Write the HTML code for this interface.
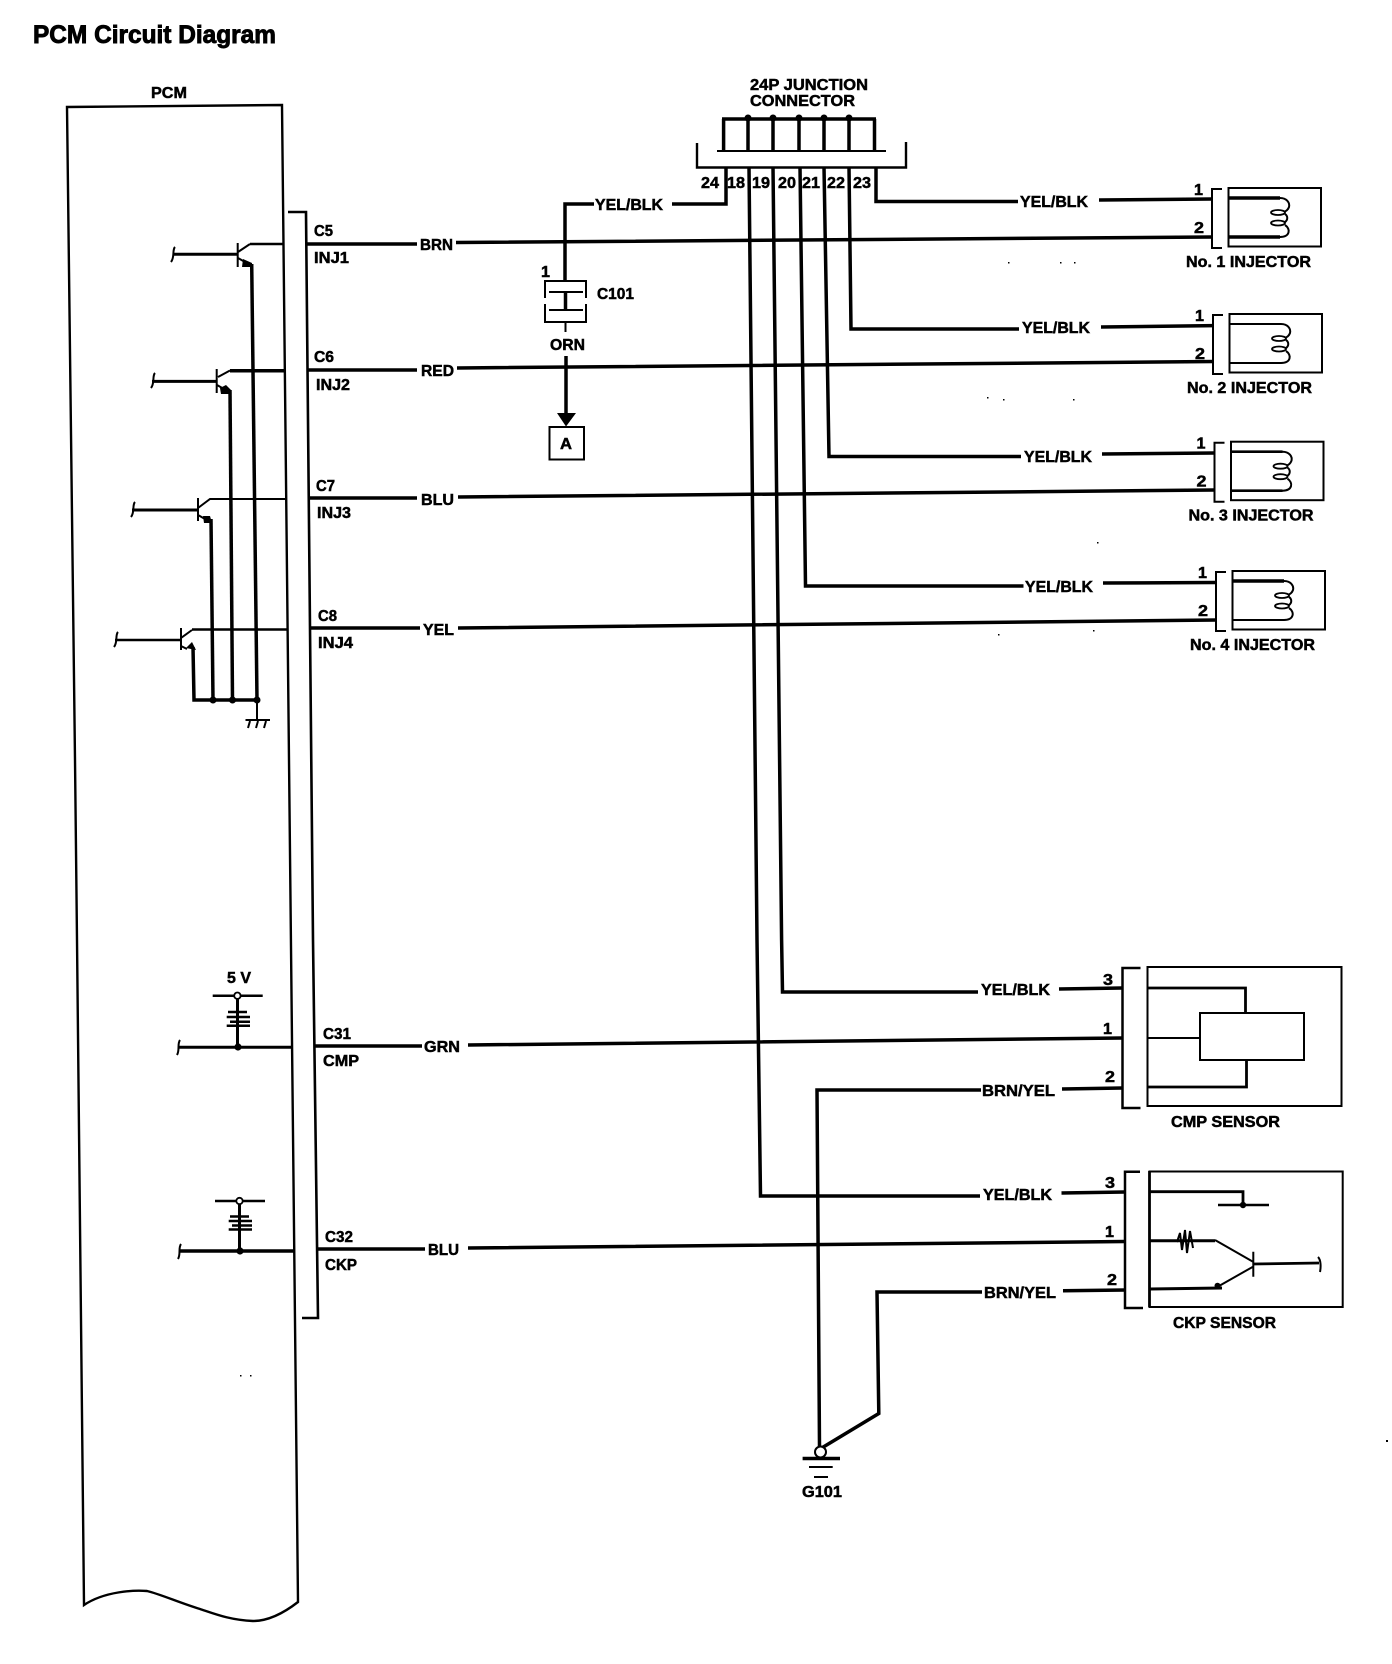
<!DOCTYPE html>
<html>
<head>
<meta charset="utf-8">
<title>PCM Circuit Diagram</title>
<style>
html,body{margin:0;padding:0;background:#fff;}
svg{display:block;}
text{font-family:"Liberation Sans",Arial,sans-serif;font-weight:bold;font-size:16px;fill:#000;stroke:#000;stroke-width:.5px;}
.w{fill:none;stroke:#000;stroke-width:3.5;stroke-linejoin:miter;}
.t{fill:none;stroke:#000;stroke-width:2;}
.h{fill:none;stroke:#000;stroke-width:2;}
.r{fill:none;stroke:#000;stroke-width:2.5;}
</style>
</head>
<body>
<svg width="1392" height="1664" viewBox="0 0 1392 1664" xmlns="http://www.w3.org/2000/svg">
<rect width="1392" height="1664" fill="#fff"/>

<!-- Title -->
<text x="33" y="43" style="font-size:25px;stroke-width:.9px" textLength="243" lengthAdjust="spacingAndGlyphs">PCM Circuit Diagram</text>

<!-- PCM box -->
<text x="151" y="98" textLength="36" lengthAdjust="spacingAndGlyphs">PCM</text>
<path class="t" d="M77 940 L75 760 L67 107 L282 105 L289 760 L298 1602 C280 1616 265 1621 253 1621 C230 1620 215 1614 200 1609 C180 1603 160 1594 147 1591 C135 1590 105 1591 84 1605 L77 940" style="stroke-width:2.4"/>

<!-- Connector bar -->
<path class="t" d="M288 212 H306 L313 940 L318 1318 H302" style="stroke-width:2.6"/>

<!-- Connector labels -->
<text x="314" y="236" textLength="19" lengthAdjust="spacingAndGlyphs">C5</text>
<text x="314" y="263" textLength="35" lengthAdjust="spacingAndGlyphs">INJ1</text>
<text x="314" y="362" textLength="20" lengthAdjust="spacingAndGlyphs">C6</text>
<text x="316" y="390" textLength="34" lengthAdjust="spacingAndGlyphs">INJ2</text>
<text x="316" y="491" textLength="19" lengthAdjust="spacingAndGlyphs">C7</text>
<text x="317" y="518" textLength="34" lengthAdjust="spacingAndGlyphs">INJ3</text>
<text x="318" y="621" textLength="19" lengthAdjust="spacingAndGlyphs">C8</text>
<text x="318" y="648" textLength="35" lengthAdjust="spacingAndGlyphs">INJ4</text>
<text x="323" y="1039" textLength="28" lengthAdjust="spacingAndGlyphs">C31</text>
<text x="323" y="1066" textLength="36" lengthAdjust="spacingAndGlyphs">CMP</text>
<text x="325" y="1242" textLength="28" lengthAdjust="spacingAndGlyphs">C32</text>
<text x="325" y="1270" textLength="32" lengthAdjust="spacingAndGlyphs">CKP</text>

<!-- Signal wires -->
<path class="w" d="M306 244 H417 M456 242.5 L1212 237"/>
<text x="420" y="250" textLength="33" lengthAdjust="spacingAndGlyphs">BRN</text>
<path class="w" d="M308 370 H417 M457 368 L1214 361.5"/>
<text x="421" y="376" textLength="33" lengthAdjust="spacingAndGlyphs">RED</text>
<path class="w" d="M309 498 H417 M458 497 L1215 490"/>
<text x="421" y="505" textLength="33" lengthAdjust="spacingAndGlyphs">BLU</text>
<path class="w" d="M310 628 H420 M458 628 L1217 620"/>
<text x="423" y="635" textLength="31" lengthAdjust="spacingAndGlyphs">YEL</text>
<path class="w" d="M315 1046 H422 M468 1045 L1122.5 1038"/>
<text x="424" y="1052" textLength="36" lengthAdjust="spacingAndGlyphs">GRN</text>
<path class="w" d="M317 1249 H425 M468 1248 L1125 1241.5"/>
<text x="428" y="1255" textLength="31" lengthAdjust="spacingAndGlyphs">BLU</text>

<!-- Transistor 1 -->
<path class="h" d="M175 247 C172 250 175 257 171 262"/>
<path class="w" d="M173 254.3 H238" style="stroke-width:3"/>
<path class="t" d="M237.7 243 V267 M238 252 L250 244 M238 258 L245 262"/>
<path class="t" d="M250 244 H283" style="stroke-width:2.6"/>
<path d="M243 259 L252 263 L252 267 L242 267 Z" fill="#000"/>
<path class="w" d="M251.7 264 L257 700"/>
<!-- Transistor 2 -->
<path class="h" d="M155 373 C152 376 155 383 151 388"/>
<path class="w" d="M152 381.4 H216.7" style="stroke-width:3"/>
<path class="t" d="M216.7 369 V393 M218 377 L230 370.5 M217 385 L224 389"/>
<path class="w" d="M230 370.7 H285"/>
<path d="M220 388 L226 385 L231 390 L231 394 L221 394 Z" fill="#000"/>
<path class="w" d="M230 390 L232.5 700"/>
<!-- Transistor 3 -->
<path class="h" d="M135 502 C132 505 135 512 131 517"/>
<path class="w" d="M132 510 H198" style="stroke-width:3"/>
<path class="t" d="M198 498 V521 M198 508 L210 499 H286 M198 515 L205 519"/>
<path d="M203 516 L210 516 L212 523 L204 523 Z" fill="#000"/>
<path class="w" d="M211 519 L213 700"/>
<!-- Transistor 4 -->
<path class="h" d="M118 632 C115 635 118 642 114 647"/>
<path class="w" d="M115 640 H181" style="stroke-width:2.6"/>
<path class="t" d="M181 628 V650 M181 638 L192 630 M181 646 L187 649"/>
<path class="t" d="M192 629.5 H286.5" style="stroke-width:2.4"/>
<path d="M186 648 L192 642 L196 650 Z" fill="#000"/>
<path class="w" d="M193 647 L194 700 H257"/>
<circle cx="213" cy="700" r="3.5"/><circle cx="232.5" cy="700" r="3.5"/><circle cx="257" cy="700" r="3.5"/>
<path class="t" d="M257 700 V720 M245.5 720 H270"/>
<path class="h" d="M250 721 L248 728 M258 721 L256 728 M266 721 L264 728"/>

<!-- C101 -->
<path class="w" d="M565 281 V204 H594 M672 204 H726 V167"/>
<text x="595" y="210" textLength="68" lengthAdjust="spacingAndGlyphs">YEL/BLK</text>
<text x="541" y="277" textLength="9" lengthAdjust="spacingAndGlyphs">1</text>
<path class="t" d="M545 298 V281 H586 V298 M545 304 V322 H586 V304"/>
<path class="t" d="M549 292 H583 M549 310 H583"/>
<path class="w" d="M565.5 292 V310"/>
<path class="t" d="M565.5 322 V332"/>
<text x="597" y="299" textLength="37" lengthAdjust="spacingAndGlyphs">C101</text>
<text x="550" y="350" textLength="35" lengthAdjust="spacingAndGlyphs">ORN</text>
<path class="w" d="M566 356 V415"/>
<path d="M557 413 H576 L566 426.5 Z" fill="#000"/>
<rect x="549.5" y="427" width="34.5" height="32.5" fill="#fff" stroke="#000" stroke-width="2"/>
<text x="560" y="449" textLength="12" lengthAdjust="spacingAndGlyphs">A</text>

<!-- Junction connector -->
<text x="750" y="90" textLength="118" lengthAdjust="spacingAndGlyphs">24P JUNCTION</text>
<text x="750" y="106" textLength="105" lengthAdjust="spacingAndGlyphs">CONNECTOR</text>
<path class="w" d="M722 119 H876 M723.6 119 V151 M748 119 V151 M773 119 V151 M799 119 V151 M824 119 V151 M849 119 V151 M874.5 119 V151"/>
<circle cx="748" cy="118" r="3.5"/><circle cx="773" cy="118" r="3.5"/><circle cx="799" cy="118" r="3.5"/><circle cx="824" cy="118" r="3.5"/><circle cx="849" cy="118" r="3.5"/>
<path class="t" d="M717 151 H886"/>
<path class="t" d="M697 143 V167.5 H906 V142" style="stroke-width:2.4"/>
<text x="701" y="188" textLength="18" lengthAdjust="spacingAndGlyphs">24</text>
<text x="727" y="188" textLength="18" lengthAdjust="spacingAndGlyphs">18</text>
<text x="752" y="188" textLength="18" lengthAdjust="spacingAndGlyphs">19</text>
<text x="778" y="188" textLength="18" lengthAdjust="spacingAndGlyphs">20</text>
<text x="802" y="188" textLength="18" lengthAdjust="spacingAndGlyphs">21</text>
<text x="827" y="188" textLength="18" lengthAdjust="spacingAndGlyphs">22</text>
<text x="853" y="188" textLength="18" lengthAdjust="spacingAndGlyphs">23</text>

<!-- Vertical wires from junction -->
<path class="w" d="M749 167 L757 940 L760.5 1196 H980"/>
<path class="w" d="M773 167 L781.6 940 L782.5 992 H978"/>
<path class="w" d="M800 167 L805.5 586 H1023.5"/>
<path class="w" d="M824 167 L829 456.5 H1021"/>
<path class="w" d="M849 167 L851 329 H1019"/>
<path class="w" d="M876 167 V201.5 H1018"/>

<!-- YEL/BLK labels and injector feeds -->
<text x="1020" y="207" textLength="68" lengthAdjust="spacingAndGlyphs">YEL/BLK</text>
<path class="w" d="M1099 200 L1212 199"/>
<text x="1022" y="333" textLength="68" lengthAdjust="spacingAndGlyphs">YEL/BLK</text>
<path class="w" d="M1101 327 L1213 325.6"/>
<text x="1024" y="462" textLength="68" lengthAdjust="spacingAndGlyphs">YEL/BLK</text>
<path class="w" d="M1102 454 L1214.6 453"/>
<text x="1025" y="592" textLength="68" lengthAdjust="spacingAndGlyphs">YEL/BLK</text>
<path class="w" d="M1103 583 L1216 582.5"/>

<!-- Injector 1 -->
<g>
<text x="1194" y="195" textLength="9" lengthAdjust="spacingAndGlyphs">1</text>
<text x="1194" y="233" textLength="10" lengthAdjust="spacingAndGlyphs">2</text>
<path class="t" d="M1222 189 H1212 V248 H1222"/>
<rect x="1228.5" y="188" width="92.5" height="58.5" fill="none" stroke="#000" stroke-width="2"/>
<path class="w" d="M1228 198 H1280 M1228 237 H1280"/>
<path class="t" d="M1280 198 C1287 198 1290 203 1289 207 C1288 210 1286 211 1284 212 M1285 214 C1288 216 1288 220 1285 222 M1285 225 C1291 229 1290 237 1280 237"/>
<ellipse cx="1278" cy="212.5" rx="7" ry="2.5" fill="none" stroke="#000" stroke-width="1.8"/>
<ellipse cx="1278" cy="223" rx="7" ry="2.5" fill="none" stroke="#000" stroke-width="1.8"/>
<text x="1186" y="267" textLength="125" lengthAdjust="spacingAndGlyphs">No. 1 INJECTOR</text>
</g>
<!-- Injector 2 -->
<g transform="translate(1,126)">
<text x="1194" y="195" textLength="9" lengthAdjust="spacingAndGlyphs">1</text>
<text x="1194" y="233" textLength="10" lengthAdjust="spacingAndGlyphs">2</text>
<path class="t" d="M1222 189 H1212 V248 H1222"/>
<rect x="1228.5" y="188" width="92.5" height="58.5" fill="none" stroke="#000" stroke-width="2"/>
<path class="t" d="M1228 198 H1280 M1228 237 H1280"/>
<path class="t" d="M1280 198 C1287 198 1290 203 1289 207 C1288 210 1286 211 1284 212 M1285 214 C1288 216 1288 220 1285 222 M1285 225 C1291 229 1290 237 1280 237"/>
<ellipse cx="1278" cy="212.5" rx="7" ry="2.5" fill="none" stroke="#000" stroke-width="1.8"/>
<ellipse cx="1278" cy="223" rx="7" ry="2.5" fill="none" stroke="#000" stroke-width="1.8"/>
<text x="1186" y="267" textLength="125" lengthAdjust="spacingAndGlyphs">No. 2 INJECTOR</text>
</g>
<!-- Injector 3 -->
<g transform="translate(2.5,253.7)">
<text x="1194" y="195" textLength="9" lengthAdjust="spacingAndGlyphs">1</text>
<text x="1194" y="233" textLength="10" lengthAdjust="spacingAndGlyphs">2</text>
<path class="t" d="M1222 189 H1212 V248 H1222"/>
<rect x="1228.5" y="188" width="92.5" height="58.5" fill="none" stroke="#000" stroke-width="2"/>
<path class="w" d="M1228 198 H1280 M1228 237 H1280" style="stroke-width:2.6"/>
<path class="t" d="M1280 198 C1287 198 1290 203 1289 207 C1288 210 1286 211 1284 212 M1285 214 C1288 216 1288 220 1285 222 M1285 225 C1291 229 1290 237 1280 237"/>
<ellipse cx="1278" cy="212.5" rx="7" ry="2.5" fill="none" stroke="#000" stroke-width="1.8"/>
<ellipse cx="1278" cy="223" rx="7" ry="2.5" fill="none" stroke="#000" stroke-width="1.8"/>
<text x="1186" y="267" textLength="125" lengthAdjust="spacingAndGlyphs">No. 3 INJECTOR</text>
</g>
<!-- Injector 4 -->
<g transform="translate(4,383)">
<text x="1194" y="195" textLength="9" lengthAdjust="spacingAndGlyphs">1</text>
<text x="1194" y="233" textLength="10" lengthAdjust="spacingAndGlyphs">2</text>
<path class="t" d="M1222 189 H1212 V248 H1222"/>
<rect x="1228.5" y="188" width="92.5" height="58.5" fill="none" stroke="#000" stroke-width="2"/>
<path class="w" d="M1228 198 H1280"/>
<path class="t" d="M1228 237 H1280 M1280 198 C1287 198 1290 203 1289 207 C1288 210 1286 211 1284 212 M1285 214 C1288 216 1288 220 1285 222 M1285 225 C1291 229 1290 237 1280 237"/>
<ellipse cx="1278" cy="212.5" rx="7" ry="2.5" fill="none" stroke="#000" stroke-width="1.8"/>
<ellipse cx="1278" cy="223" rx="7" ry="2.5" fill="none" stroke="#000" stroke-width="1.8"/>
<text x="1186" y="267" textLength="125" lengthAdjust="spacingAndGlyphs">No. 4 INJECTOR</text>
</g>

<!-- 5 V network -->
<text x="227" y="983" textLength="24" lengthAdjust="spacingAndGlyphs">5 V</text>
<path class="r" d="M212.7 995.7 H262.7"/>
<path class="w" d="M237.5 996 V1047" style="stroke-width:3"/>
<circle cx="237.4" cy="995.7" r="3.2" fill="#fff" stroke="#000" stroke-width="1.8"/>
<path class="r" d="M228 1012 H247 M226.7 1017 H250 M230 1021.7 H250 M226.7 1025.7 H250"/>
<path class="w" d="M178 1047.3 H291" style="stroke-width:3"/>
<path class="h" d="M180 1040 C177 1044 180 1050 177 1055"/>
<circle cx="238" cy="1047" r="3.6"/>

<!-- CKP pull-up -->
<path class="r" d="M215 1201 H265"/>
<path class="w" d="M239.5 1201 V1251" style="stroke-width:3"/>
<circle cx="239.5" cy="1201" r="3.2" fill="#fff" stroke="#000" stroke-width="1.8"/>
<path class="r" d="M230 1216.5 H249 M228.7 1221 H252 M232 1225.5 H252 M228.7 1229.5 H252"/>
<path class="w" d="M179 1251 H294"/>
<path class="h" d="M181 1244 C178 1248 181 1254 178 1259"/>
<circle cx="240" cy="1251" r="3.6"/>

<!-- CMP sensor -->
<text x="981" y="995" textLength="69" lengthAdjust="spacingAndGlyphs">YEL/BLK</text>
<path class="w" d="M1059 989 L1122 988"/>
<text x="1103" y="985" textLength="10" lengthAdjust="spacingAndGlyphs">3</text>
<text x="1103" y="1034" textLength="9" lengthAdjust="spacingAndGlyphs">1</text>
<text x="1105" y="1082" textLength="10" lengthAdjust="spacingAndGlyphs">2</text>
<path class="t" d="M1140.5 968 H1122.5 V1108 H1140.5" style="stroke-width:2.5"/>
<rect x="1147.5" y="967" width="194" height="139" fill="none" stroke="#000" stroke-width="2"/>
<rect x="1200" y="1013" width="104" height="47" fill="none" stroke="#000" stroke-width="2"/>
<path class="w" d="M1147.5 988 H1245.5 V1013 M1147.5 1087 H1246.5 V1060" style="stroke-width:2.8"/>
<path class="t" d="M1147.5 1038 H1200"/>
<text x="1171" y="1127" textLength="109" lengthAdjust="spacingAndGlyphs">CMP SENSOR</text>

<!-- Ground wires -->
<path class="w" d="M981 1090 H817 L819.5 1447 M1062 1089 L1122.5 1088"/>
<text x="982" y="1096" textLength="73" lengthAdjust="spacingAndGlyphs">BRN/YEL</text>

<!-- CKP sensor -->
<text x="983" y="1200" textLength="69" lengthAdjust="spacingAndGlyphs">YEL/BLK</text>
<path class="w" d="M1061.5 1193 L1125 1192"/>
<text x="1105" y="1188" textLength="10" lengthAdjust="spacingAndGlyphs">3</text>
<text x="1105" y="1237" textLength="9" lengthAdjust="spacingAndGlyphs">1</text>
<text x="1107" y="1285" textLength="10" lengthAdjust="spacingAndGlyphs">2</text>
<path class="t" d="M1140 1171.7 H1125 V1308 H1143" style="stroke-width:2.5"/>
<rect x="1149.5" y="1171.5" width="193.2" height="135.5" fill="none" stroke="#000" stroke-width="2"/>
<path class="w" d="M1149.5 1171 V1307 M1149.5 1191.7 H1243 V1205" style="stroke-width:2.8"/>
<path class="r" d="M1218 1205 H1269"/>
<circle cx="1243" cy="1205" r="3.2"/>
<path class="w" d="M1149.5 1240.7 H1215" style="stroke-width:3"/>
<path class="t" d="M1177 1242 L1180 1233 L1182 1250 L1185 1230 L1187 1253 L1190 1231 L1193 1248" style="stroke-width:2"/>
<path class="t" d="M1215 1240 L1253 1261.7 M1253.3 1251.7 V1276.7 M1253 1266.7 L1219 1286"/>
<path class="w" d="M1253 1264 L1319 1263" style="stroke-width:2.8"/>
<path class="h" d="M1318 1257 C1321 1260 1321 1267 1320 1272"/>
<circle cx="1217.5" cy="1285.7" r="3"/>
<path class="w" d="M1150 1289 L1222 1288" style="stroke-width:3"/>
<text x="1173" y="1328" textLength="103" lengthAdjust="spacingAndGlyphs">CKP SENSOR</text>

<path class="w" d="M982 1292 H877 L878.8 1413.5 L820 1449 M1063 1290.7 L1125.7 1290"/>
<text x="984" y="1298" textLength="72" lengthAdjust="spacingAndGlyphs">BRN/YEL</text>

<!-- G101 -->
<circle cx="820.5" cy="1452" r="5.5" fill="#fff" stroke="#000" stroke-width="2"/>
<path class="w" d="M802.6 1458.5 H840"/>
<path class="t" d="M809 1467 H832.7 M814 1477 H828"/>
<text x="802" y="1497" textLength="40" lengthAdjust="spacingAndGlyphs">G101</text>

<!-- Scan specks -->
<g fill="#000">
<rect x="1008" y="262" width="1.5" height="1.5"/><rect x="1060" y="262" width="1.5" height="1.5"/><rect x="1074" y="262" width="1.5" height="1.5"/>
<rect x="987" y="397" width="1.5" height="1.5"/><rect x="1003" y="399" width="1.5" height="1.5"/><rect x="1073" y="399" width="1.5" height="1.5"/>
<rect x="1097" y="542" width="1.5" height="1.5"/><rect x="998" y="634" width="1.5" height="1.5"/><rect x="1093" y="630" width="1.5" height="1.5"/>
<rect x="1386" y="1440" width="2" height="2"/><rect x="240" y="1375" width="1.5" height="1.5"/><rect x="250" y="1375" width="1.5" height="1.5"/>
</g>
</svg>
</body>
</html>
